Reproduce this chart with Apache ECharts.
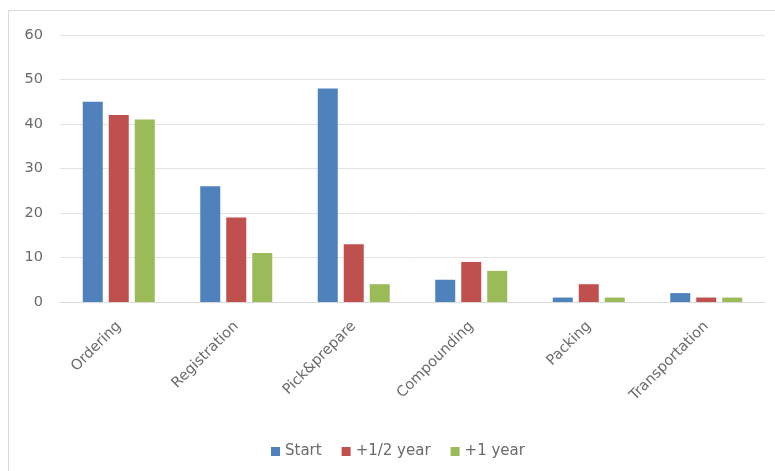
<!DOCTYPE html>
<html>
<head>
<meta charset="utf-8">
<script src="https://cdn.jsdelivr.net/npm/echarts@6/dist/echarts.min.js"></script>
<style>
    html, body { margin: 0; padding: 0; background: #fff; }
    #main { width: 775px; height: 471px; }
</style>
</head>
<body>
<div id="main"></div>
<script>
    var categories = ['Ordering', 'Registration', 'Pick&prepare', 'Compounding', 'Packing', 'Transportation'];
    var startData = [45, 26, 48, 5, 1, 2];
    var halfYearData = [42, 19, 13, 9, 4, 1];
    var oneYearData = [41, 11, 4, 7, 1, 1];

    var chart = echarts.init(document.getElementById('main'));

    var option = {
        animation: false,
        color: ['#4F81BD', '#C0504D', '#9BBB59'],
        graphic: [{
            type: 'rect',
            shape: {x: 8.5, y: 10.5, width: 780, height: 470},
            style: {fill: 'none', stroke: '#d9d9d9', lineWidth: 1},
            silent: true
        }],
        grid: {
            left: 60,
            right: 10,
            top: 35,
            bottom: 169
        },
        legend: {
            top: 439,
            left: 266,
            itemWidth: 9,
            itemHeight: 9,
            itemGap: 20,
            icon: 'rect',
            textStyle: {color: '#6a6a6a', fontSize: 15, fontFamily: 'DejaVu Sans'},
            data: ['Start', '+1/2 year', '+1 year']
        },
        xAxis: {
            type: 'category',
            data: categories,
            axisLine: {lineStyle: {color: '#d9d9d9'}},
            axisTick: {show: false},
            axisLabel: {
                rotate: 45,
                interval: 0,
                margin: 22,
                color: '#6a6a6a',
                fontSize: 14.5,
                fontFamily: 'DejaVu Sans'
            }
        },
        yAxis: {
            type: 'value',
            min: 0,
            max: 60,
            interval: 10,
            axisLine: {show: false},
            axisTick: {show: false},
            axisLabel: {color: '#6a6a6a', fontSize: 14.5, fontFamily: 'DejaVu Sans', margin: 17},
            splitLine: {lineStyle: {color: '#e3e3e3'}}
        },
        series: [
            {name: 'Start', type: 'bar', data: startData, barWidth: 20, barGap: '30%'},
            {name: '+1/2 year', type: 'bar', data: halfYearData, barWidth: 20, barGap: '30%'},
            {name: '+1 year', type: 'bar', data: oneYearData, barWidth: 20, barGap: '30%'}
        ]
    };

    chart.setOption(option);
</script>
</body>
</html>
